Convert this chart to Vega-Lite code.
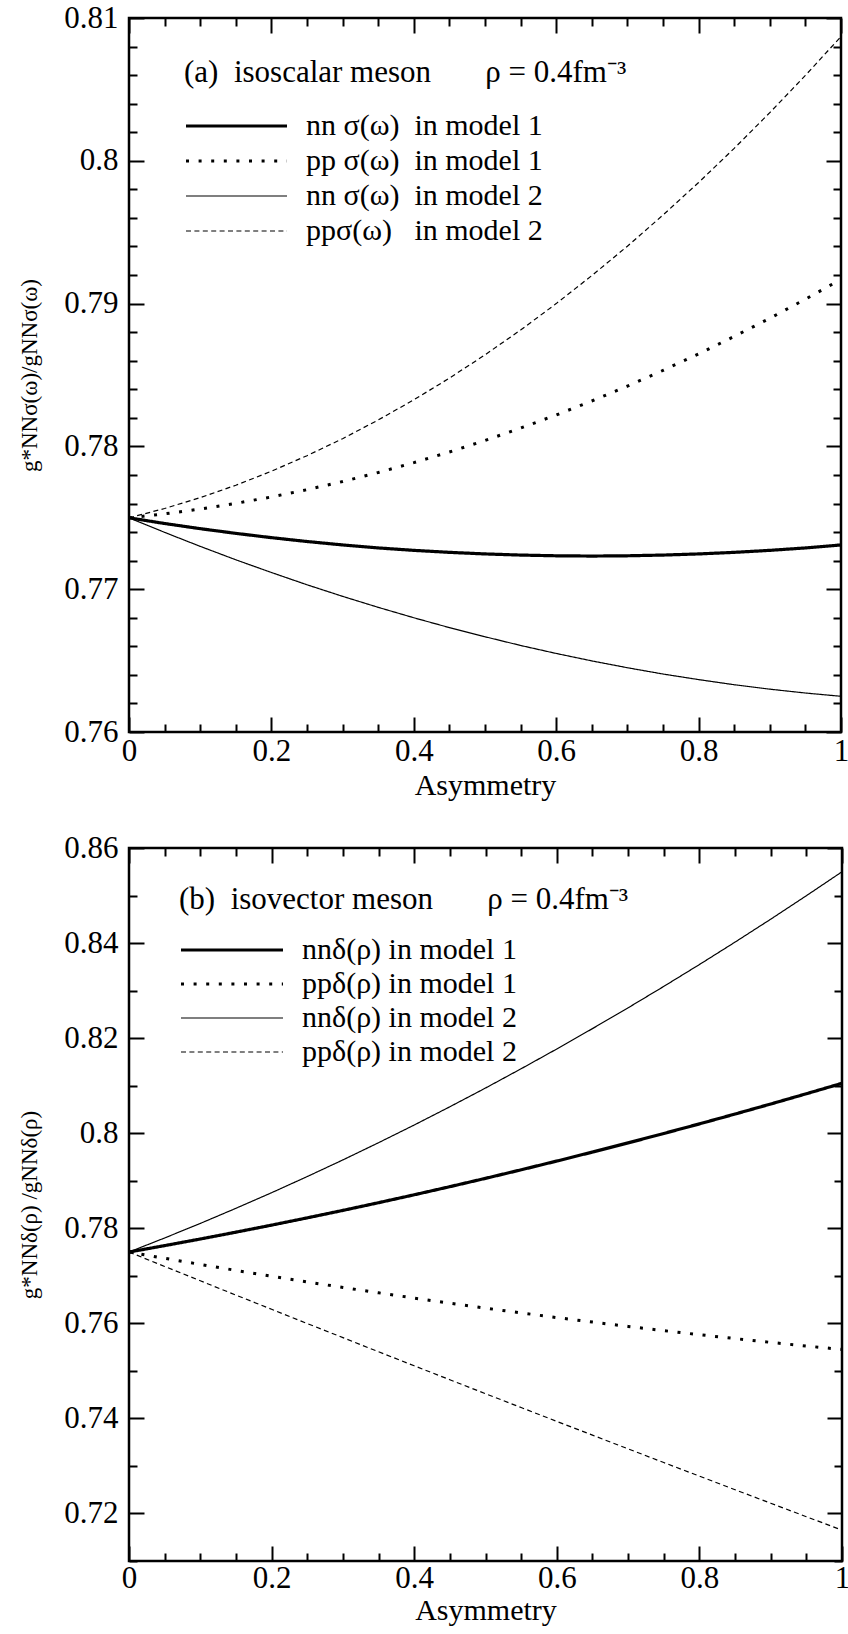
{
  "$schema": "https://vega.github.io/schema/vega-lite/v6.json",
  "background": "white",
  "padding": {"left": 17, "top": 0, "right": 0, "bottom": 0},
  "resolve": {"scale": {"strokeDash": "independent", "strokeWidth": "independent"}, "legend": {"strokeDash": "independent", "strokeWidth": "independent"}},
  "config": {
    "font": "Liberation Serif, Times New Roman, serif",
    "view": {"stroke": "black", "strokeWidth": 2.5},
    "style": {"guide-label": {"font": "Liberation Serif, Times New Roman, serif", "fill": "black"}, "guide-title": {"font": "Liberation Serif, Times New Roman, serif", "fill": "black"}},
    "axis": {"labelFont": "Liberation Serif, Times New Roman, serif", "labelFontSize": 31, "labelColor": "black", "titleFont": "Liberation Serif, Times New Roman, serif", "titleFontSize": 30, "titleFontWeight": "normal", "titleColor": "black", "tickColor": "black", "tickWidth": 2, "grid": false, "domain": false, "labelFlush": false, "labelOverlap": false, "format": "~g"},
    "legend": {"orient": "none", "padding": 0, "titleFont": "Liberation Serif, Times New Roman, serif", "titleFontSize": 31, "titleFontWeight": "normal", "titleColor": "black", "titleLimit": 800, "labelFont": "Liberation Serif, Times New Roman, serif", "labelFontSize": 30, "labelColor": "black", "labelLimit": 600, "symbolType": "stroke", "symbolStrokeColor": "black", "clipHeight": 30}
  },
  "datasets": {
    "top": [
      {"x": 0, "nn1": 0.7750, "pp1": 0.7750, "nn2": 0.7750, "pp2": 0.7750},
      {"x": 0.05, "nn1": 0.77460, "pp1": 0.77528, "nn2": 0.77398, "pp2": 0.77565},
      {"x": 0.1, "nn1": 0.77424, "pp1": 0.77561, "nn2": 0.77300, "pp2": 0.77641},
      {"x": 0.15, "nn1": 0.77391, "pp1": 0.77601, "nn2": 0.77206, "pp2": 0.77728},
      {"x": 0.2, "nn1": 0.77361, "pp1": 0.77646, "nn2": 0.77117, "pp2": 0.77826},
      {"x": 0.25, "nn1": 0.77334, "pp1": 0.77697, "nn2": 0.77031, "pp2": 0.77935},
      {"x": 0.3, "nn1": 0.77310, "pp1": 0.77754, "nn2": 0.76950, "pp2": 0.78054},
      {"x": 0.35, "nn1": 0.77289, "pp1": 0.77817, "nn2": 0.76873, "pp2": 0.78185},
      {"x": 0.4, "nn1": 0.77272, "pp1": 0.77886, "nn2": 0.76800, "pp2": 0.78326},
      {"x": 0.45, "nn1": 0.77258, "pp1": 0.77961, "nn2": 0.76731, "pp2": 0.78478},
      {"x": 0.5, "nn1": 0.77247, "pp1": 0.78041, "nn2": 0.76667, "pp2": 0.78641},
      {"x": 0.55, "nn1": 0.77239, "pp1": 0.78128, "nn2": 0.76606, "pp2": 0.78815},
      {"x": 0.6, "nn1": 0.77234, "pp1": 0.78220, "nn2": 0.76550, "pp2": 0.79000},
      {"x": 0.65, "nn1": 0.77232, "pp1": 0.78318, "nn2": 0.76498, "pp2": 0.79196},
      {"x": 0.7, "nn1": 0.77234, "pp1": 0.78422, "nn2": 0.76450, "pp2": 0.79402},
      {"x": 0.75, "nn1": 0.77239, "pp1": 0.78532, "nn2": 0.76406, "pp2": 0.79620},
      {"x": 0.8, "nn1": 0.77247, "pp1": 0.78648, "nn2": 0.76367, "pp2": 0.79848},
      {"x": 0.85, "nn1": 0.77258, "pp1": 0.78770, "nn2": 0.76331, "pp2": 0.80087},
      {"x": 0.9, "nn1": 0.77272, "pp1": 0.78897, "nn2": 0.76300, "pp2": 0.80337},
      {"x": 0.95, "nn1": 0.77289, "pp1": 0.79031, "nn2": 0.76273, "pp2": 0.80598},
      {"x": 1, "nn1": 0.77310, "pp1": 0.79170, "nn2": 0.76250, "pp2": 0.80870}
    ],
    "bottom": [
      {"x": 0, "nn1": 0.7750, "pp1": 0.7750, "nn2": 0.7750, "pp2": 0.7750},
      {"x": 0.05, "nn1": 0.77635, "pp1": 0.77368, "nn2": 0.77796, "pp2": 0.77197},
      {"x": 0.1, "nn1": 0.77774, "pp1": 0.77239, "nn2": 0.78102, "pp2": 0.76895},
      {"x": 0.15, "nn1": 0.77918, "pp1": 0.77114, "nn2": 0.78420, "pp2": 0.76594},
      {"x": 0.2, "nn1": 0.78066, "pp1": 0.76991, "nn2": 0.78748, "pp2": 0.76295},
      {"x": 0.25, "nn1": 0.78219, "pp1": 0.76871, "nn2": 0.79088, "pp2": 0.75996},
      {"x": 0.3, "nn1": 0.78376, "pp1": 0.76755, "nn2": 0.79438, "pp2": 0.75699},
      {"x": 0.35, "nn1": 0.78538, "pp1": 0.76642, "nn2": 0.79800, "pp2": 0.75402},
      {"x": 0.4, "nn1": 0.78704, "pp1": 0.76531, "nn2": 0.80172, "pp2": 0.75107},
      {"x": 0.45, "nn1": 0.78875, "pp1": 0.76424, "nn2": 0.80556, "pp2": 0.74813},
      {"x": 0.5, "nn1": 0.79050, "pp1": 0.76320, "nn2": 0.80950, "pp2": 0.74520},
      {"x": 0.55, "nn1": 0.79230, "pp1": 0.76219, "nn2": 0.81356, "pp2": 0.74228},
      {"x": 0.6, "nn1": 0.79414, "pp1": 0.76121, "nn2": 0.81772, "pp2": 0.73937},
      {"x": 0.65, "nn1": 0.79603, "pp1": 0.76027, "nn2": 0.82200, "pp2": 0.73648},
      {"x": 0.7, "nn1": 0.79796, "pp1": 0.75935, "nn2": 0.82638, "pp2": 0.73359},
      {"x": 0.75, "nn1": 0.79994, "pp1": 0.75846, "nn2": 0.83088, "pp2": 0.73071},
      {"x": 0.8, "nn1": 0.80196, "pp1": 0.75761, "nn2": 0.83548, "pp2": 0.72785},
      {"x": 0.85, "nn1": 0.80403, "pp1": 0.75679, "nn2": 0.84020, "pp2": 0.72500},
      {"x": 0.9, "nn1": 0.80614, "pp1": 0.75599, "nn2": 0.84502, "pp2": 0.72215},
      {"x": 0.95, "nn1": 0.80830, "pp1": 0.75523, "nn2": 0.84996, "pp2": 0.71932},
      {"x": 1, "nn1": 0.81050, "pp1": 0.75450, "nn2": 0.85500, "pp2": 0.71650}
    ]
  },
  "spacing": 28,
  "vconcat": [
    {
      "width": 712,
      "height": 714,
      "resolve": {"axis": {"x": "independent", "y": "independent"}},
      "layer": [
        {
          "data": {"name": "top"},
          "transform": [{"fold": ["nn1", "pp1", "nn2", "pp2"]}],
          "mark": {"type": "line", "color": "black", "clip": true, "strokeCap": "butt"},
          "encoding": {
            "x": {"field": "x", "type": "quantitative", "scale": {"domain": [0, 1], "nice": false},
              "axis": {"orient": "bottom", "values": [0, 0.2, 0.4, 0.6, 0.8, 1], "tickSize": -15, "labelPadding": 19, "title": "Asymmetry", "titlePadding": 4}},
            "y": {"field": "value", "type": "quantitative", "scale": {"domain": [0.76, 0.81], "zero": false, "nice": false},
              "axis": {"orient": "left", "values": [0.76, 0.77, 0.78, 0.79, 0.8, 0.81], "tickSize": -15, "labelPadding": 26, "title": "g*NNσ(ω)/gNNσ(ω)", "titleFontSize": 23, "titlePadding": 22}},
            "strokeDash": {"field": "key", "type": "ordinal",
              "scale": {"type": "ordinal", "domain": ["nn1", "pp1", "nn2", "pp2"], "range": [[1, 0], [3, 9.6], [1, 0], [5, 3.4]]},
              "legend": {"legendX": 55, "legendY": 40, "title": "(a)\u00a0\u00a0isoscalar meson\u00a0\u00a0\u00a0\u00a0\u00a0\u00a0\u00a0ρ = 0.4fm⁻³", "titlePadding": 22, "rowPadding": 5, "symbolSize": 10201, "labelOffset": 17,
                "labelExpr": "{'nn1': 'nn σ(ω)\u00a0 in model 1', 'pp1': 'pp σ(ω)\u00a0 in model 1', 'nn2': 'nn σ(ω)\u00a0 in model 2', 'pp2': 'ppσ(ω)\u00a0\u00a0 in model 2'}[datum.label]"}},
            "strokeWidth": {"field": "key", "type": "ordinal",
              "scale": {"type": "ordinal", "domain": ["nn1", "pp1", "nn2", "pp2"], "range": [3.2, 3, 1.2, 1.2]},
              "legend": {"legendX": 55, "legendY": 40, "title": "(a)\u00a0\u00a0isoscalar meson\u00a0\u00a0\u00a0\u00a0\u00a0\u00a0\u00a0ρ = 0.4fm⁻³", "titlePadding": 22, "rowPadding": 5, "symbolSize": 10201, "labelOffset": 17,
                "labelExpr": "{'nn1': 'nn σ(ω)\u00a0 in model 1', 'pp1': 'pp σ(ω)\u00a0 in model 1', 'nn2': 'nn σ(ω)\u00a0 in model 2', 'pp2': 'ppσ(ω)\u00a0\u00a0 in model 2'}[datum.label]"}}
          }
        },
        {
          "data": {"name": "top"},
          "mark": {"type": "point", "opacity": 0},
          "encoding": {
            "x": {"field": "x", "type": "quantitative", "axis": {"orient": "bottom", "values": [0.05, 0.1, 0.15, 0.25, 0.3, 0.35, 0.45, 0.5, 0.55, 0.65, 0.7, 0.75, 0.85, 0.9, 0.95], "tickSize": -8, "labels": false, "title": null}},
            "y": {"field": "nn1", "type": "quantitative", "axis": {"orient": "left", "values": [0.762, 0.764, 0.766, 0.768, 0.772, 0.774, 0.776, 0.778, 0.782, 0.784, 0.786, 0.788, 0.792, 0.794, 0.796, 0.798, 0.802, 0.804, 0.806, 0.808], "tickSize": -8, "labels": false, "title": null}}
          }
        },
        {
          "data": {"name": "top"},
          "mark": {"type": "point", "opacity": 0},
          "encoding": {
            "x": {"field": "x", "type": "quantitative", "axis": {"orient": "top", "values": [0, 0.2, 0.4, 0.6, 0.8, 1], "tickSize": -15, "labels": false, "title": null}},
            "y": {"field": "nn1", "type": "quantitative", "axis": {"orient": "right", "values": [0.76, 0.77, 0.78, 0.79, 0.8, 0.81], "tickSize": -15, "labels": false, "title": null}}
          }
        },
        {
          "data": {"name": "top"},
          "mark": {"type": "point", "opacity": 0},
          "encoding": {
            "x": {"field": "x", "type": "quantitative", "axis": {"orient": "top", "values": [0.05, 0.1, 0.15, 0.25, 0.3, 0.35, 0.45, 0.5, 0.55, 0.65, 0.7, 0.75, 0.85, 0.9, 0.95], "tickSize": -8, "labels": false, "title": null}},
            "y": {"field": "nn1", "type": "quantitative", "axis": {"orient": "right", "values": [0.762, 0.764, 0.766, 0.768, 0.772, 0.774, 0.776, 0.778, 0.782, 0.784, 0.786, 0.788, 0.792, 0.794, 0.796, 0.798, 0.802, 0.804, 0.806, 0.808], "tickSize": -8, "labels": false, "title": null}}
          }
        }
      ]
    },
    {
      "width": 713,
      "height": 713,
      "resolve": {"axis": {"x": "independent", "y": "independent"}},
      "layer": [
        {
          "data": {"name": "bottom"},
          "transform": [{"fold": ["nn1", "pp1", "nn2", "pp2"]}],
          "mark": {"type": "line", "color": "black", "clip": true, "strokeCap": "butt"},
          "encoding": {
            "x": {"field": "x", "type": "quantitative", "scale": {"domain": [0, 1], "nice": false},
              "axis": {"orient": "bottom", "values": [0, 0.2, 0.4, 0.6, 0.8, 1], "tickSize": -15, "labelPadding": 17, "title": "Asymmetry", "titlePadding": 2}},
            "y": {"field": "value", "type": "quantitative", "scale": {"domain": [0.71, 0.86], "zero": false, "nice": false},
              "axis": {"orient": "left", "values": [0.72, 0.74, 0.76, 0.78, 0.8, 0.82, 0.84, 0.86], "tickSize": -15, "labelPadding": 26, "title": "g*NNδ(ρ) /gNNδ(ρ)", "titleFontSize": 23, "titlePadding": 22}},
            "strokeDash": {"field": "key", "type": "ordinal",
              "scale": {"type": "ordinal", "domain": ["nn1", "pp1", "nn2", "pp2"], "range": [[1, 0], [3, 9.6], [1, 0], [5, 3.4]]},
              "legend": {"legendX": 50, "legendY": 37, "title": "(b)\u00a0\u00a0isovector meson\u00a0\u00a0\u00a0\u00a0\u00a0\u00a0\u00a0ρ = 0.4fm⁻³", "titlePadding": 19, "rowPadding": 4, "symbolSize": 10404, "labelOffset": 17,
                "labelExpr": "{'nn1': 'nnδ(ρ) in model 1', 'pp1': 'ppδ(ρ) in model 1', 'nn2': 'nnδ(ρ) in model 2', 'pp2': 'ppδ(ρ) in model 2'}[datum.label]"}},
            "strokeWidth": {"field": "key", "type": "ordinal",
              "scale": {"type": "ordinal", "domain": ["nn1", "pp1", "nn2", "pp2"], "range": [3.2, 3, 1.2, 1.2]},
              "legend": {"legendX": 50, "legendY": 37, "title": "(b)\u00a0\u00a0isovector meson\u00a0\u00a0\u00a0\u00a0\u00a0\u00a0\u00a0ρ = 0.4fm⁻³", "titlePadding": 19, "rowPadding": 4, "symbolSize": 10404, "labelOffset": 17,
                "labelExpr": "{'nn1': 'nnδ(ρ) in model 1', 'pp1': 'ppδ(ρ) in model 1', 'nn2': 'nnδ(ρ) in model 2', 'pp2': 'ppδ(ρ) in model 2'}[datum.label]"}}
          }
        },
        {
          "data": {"name": "bottom"},
          "mark": {"type": "point", "opacity": 0},
          "encoding": {
            "x": {"field": "x", "type": "quantitative", "axis": {"orient": "bottom", "values": [0.05, 0.1, 0.15, 0.25, 0.3, 0.35, 0.45, 0.5, 0.55, 0.65, 0.7, 0.75, 0.85, 0.9, 0.95], "tickSize": -8, "labels": false, "title": null}},
            "y": {"field": "nn1", "type": "quantitative", "axis": {"orient": "left", "values": [0.71, 0.73, 0.75, 0.77, 0.79, 0.81, 0.83, 0.85], "tickSize": -8, "labels": false, "title": null}}
          }
        },
        {
          "data": {"name": "bottom"},
          "mark": {"type": "point", "opacity": 0},
          "encoding": {
            "x": {"field": "x", "type": "quantitative", "axis": {"orient": "top", "values": [0, 0.2, 0.4, 0.6, 0.8, 1], "tickSize": -15, "labels": false, "title": null}},
            "y": {"field": "nn1", "type": "quantitative", "axis": {"orient": "right", "values": [0.72, 0.74, 0.76, 0.78, 0.8, 0.82, 0.84, 0.86], "tickSize": -15, "labels": false, "title": null}}
          }
        },
        {
          "data": {"name": "bottom"},
          "mark": {"type": "point", "opacity": 0},
          "encoding": {
            "x": {"field": "x", "type": "quantitative", "axis": {"orient": "top", "values": [0.05, 0.1, 0.15, 0.25, 0.3, 0.35, 0.45, 0.5, 0.55, 0.65, 0.7, 0.75, 0.85, 0.9, 0.95], "tickSize": -8, "labels": false, "title": null}},
            "y": {"field": "nn1", "type": "quantitative", "axis": {"orient": "right", "values": [0.71, 0.73, 0.75, 0.77, 0.79, 0.81, 0.83, 0.85], "tickSize": -8, "labels": false, "title": null}}
          }
        }
      ]
    }
  ]
}
